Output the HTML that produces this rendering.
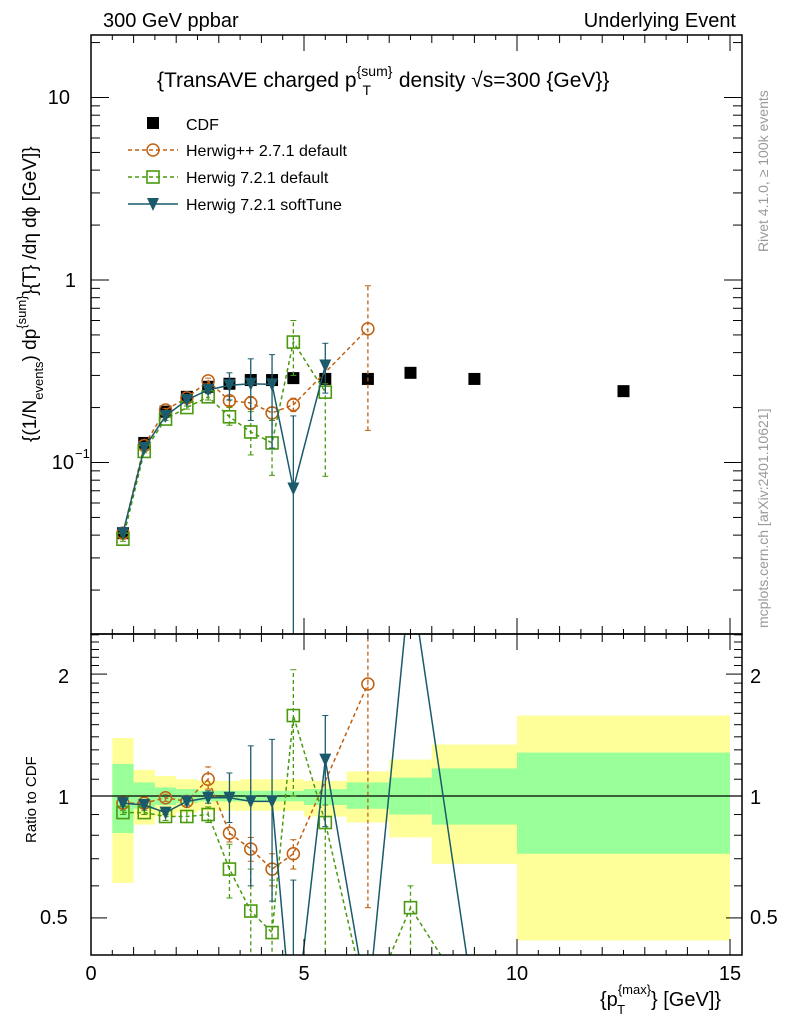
<!DOCTYPE html>
<html><head><meta charset="utf-8"><style>
body{margin:0;background:#fff;overflow:hidden;}
svg{font-family:"Liberation Sans",sans-serif;display:block;}
</style></head><body>
<svg id="c" width="786" height="1024" xmlns="http://www.w3.org/2000/svg"></svg>
<script>
const xs=[0.75,1.25,1.75,2.25,2.75,3.25,3.75,4.25,4.75,5.5,6.5,7.5,9,12.5];
const binLo=[0.5,1,1.5,2,2.5,3,3.5,4,4.5,5,6,7,8,10];
const binHi=[1,1.5,2,2.5,3,3.5,4,4.5,5,6,7,8,10,15];
const cdf=[0.041,0.128,0.19,0.229,0.26,0.27,0.283,0.283,0.29,0.287,0.287,0.31,0.287,0.246];
const hppX=[0.75,1.25,1.75,2.25,2.75,3.25,3.75,4.25,4.75,6.5];
const hpp=[0.041,0.124,0.194,0.226,0.28,0.218,0.212,0.187,0.207,0.54];
const hppLo=[0.04,0.122,0.19,0.222,0.27,0.205,0.195,0.17,0.19,0.15];
const hppHi=[0.042,0.126,0.198,0.23,0.29,0.23,0.23,0.2,0.225,0.93];
const h7X=[0.75,1.25,1.75,2.25,2.75,3.25,3.75,4.25,4.75,5.5];
const h7=[0.038,0.115,0.173,0.2,0.229,0.178,0.147,0.128,0.457,0.243];
const h7Lo=[0.037,0.113,0.17,0.196,0.22,0.16,0.11,0.085,0.3,0.084];
const h7Hi=[0.039,0.117,0.176,0.204,0.238,0.2,0.19,0.17,0.6,0.27];
const stX=[0.75,1.25,1.75,2.25,2.75,3.25,3.75,4.25,4.75,5.5];
const st=[0.041,0.12,0.18,0.22,0.25,0.265,0.27,0.268,0.072,0.34];
const stLo=[0.04,0.118,0.177,0.216,0.24,0.22,0.17,0.12,0.005,0.24];
const stHi=[0.042,0.122,0.183,0.224,0.26,0.31,0.37,0.39,0.18,0.45];
const rHppX=[0.75,1.25,1.75,2.25,2.75,3.25,3.75,4.25,4.75,6.5];
const rHpp=[0.96,0.96,0.99,0.97,1.1,0.81,0.74,0.66,0.72,1.89];
const rHppLo=[0.95,0.95,0.97,0.95,1.04,0.77,0.69,0.6,0.66,0.53];
const rHppHi=[0.97,0.97,1.01,0.99,1.18,0.86,0.79,0.72,0.78,3.5];
const rH7X=[0.75,1.25,1.75,2.25,2.75,3.25,3.75,4.25,4.75,5.5,6.5,7.5,9];
const rH7=[0.91,0.91,0.89,0.89,0.9,0.66,0.52,0.46,1.58,0.86,0.3,0.53,0.3];
const rH7Lo=[0.9,0.9,0.87,0.86,0.86,0.56,0.38,0.3,1.0,0.3,0.2,0.3,0.2];
const rH7Hi=[0.92,0.92,0.91,0.92,0.94,0.76,0.66,0.62,2.05,0.95,0.4,0.6,0.4];
const rStX=[0.75,1.25,1.75,2.25,2.75,3.25,3.75,4.25,4.75,5.5,6.5,7.5,9];
const rSt=[0.96,0.95,0.91,0.97,0.99,0.99,0.97,0.97,0.25,1.23,0.3,3.5,0.3];
const rStLo=[0.95,0.94,0.9,0.95,0.96,0.86,0.6,0.55,0.02,0.84,0.2,3,0.2];
const rStHi=[0.97,0.96,0.92,0.99,1.03,1.14,1.33,1.38,0.62,1.58,0.4,4,0.4];
const yelHi=[1.39,1.16,1.12,1.1,1.09,1.09,1.1,1.1,1.1,1.09,1.15,1.23,1.34,1.58];
const yelLo=[0.61,0.85,0.89,0.91,0.92,0.92,0.92,0.92,0.92,0.89,0.86,0.79,0.68,0.44];
const grnHi=[1.2,1.08,1.05,1.04,1.03,1.03,1.03,1.03,1.03,1.04,1.08,1.11,1.17,1.28];
const grnLo=[0.81,0.93,0.95,0.96,0.97,0.97,0.97,0.97,0.97,0.95,0.93,0.9,0.85,0.72];

const svg=document.getElementById('c');
const NS='http://www.w3.org/2000/svg';
function el(tag,attrs,parent){const e=document.createElementNS(NS,tag);for(const k in attrs)e.setAttribute(k,attrs[k]);(parent||svg).appendChild(e);return e;}
const X=v=>91+v*42.6;
const L=91,R=742,T=35,M=634,B=955;
const Yt=v=>280-182.5*Math.log10(v);
const Yr=v=>796-405*Math.log10(v);
const clipT=el('clipPath',{id:'ct'});el('rect',{x:L,y:T,width:R-L,height:M-T},clipT);
const clipB=el('clipPath',{id:'cb'});el('rect',{x:L,y:M,width:R-L,height:B-M},clipB);

const gBand=el('g',{'clip-path':'url(#cb)'});


for(let i=0;i<binLo.length;i++){
  const r1=el('rect',{x:X(binLo[i]),width:X(binHi[i])-X(binLo[i]),y:Yr(yelHi[i]),height:Yr(yelLo[i])-Yr(yelHi[i]),fill:'#ffff99'},gBand);
  
  
  const r2=el('rect',{x:X(binLo[i]),width:X(binHi[i])-X(binLo[i]),y:Yr(grnHi[i]),height:Yr(grnLo[i])-Yr(grnHi[i]),fill:'#99ff99'},gBand);
  
  
}
el('line',{x1:L,x2:R,y1:Yr(1),y2:Yr(1),stroke:'#000','stroke-width':1.2});

function series(g,xa,ya,lo,hi,Y,col,dash,marker,name){
  const grp=el('g',{},g);
  
  
  let d='';xa.forEach((x,i)=>{d+=(i?'L':'M')+X(x)+','+Y(ya[i]);});
  el('path',{d,fill:'none',stroke:col,'stroke-width':1.5,'stroke-dasharray':dash},grp);
  xa.forEach((x,i)=>{
    el('line',{x1:X(x),x2:X(x),y1:Y(lo[i]),y2:Y(hi[i]),stroke:col,'stroke-width':1.3,'stroke-dasharray':dash},grp);
    el('line',{x1:X(x)-3,x2:X(x)+3,y1:Y(lo[i]),y2:Y(lo[i]),stroke:col,'stroke-width':1},grp);
    el('line',{x1:X(x)-3,x2:X(x)+3,y1:Y(hi[i]),y2:Y(hi[i]),stroke:col,'stroke-width':1},grp);
    drawMarker(grp,X(x),Y(ya[i]),marker,col);
  });
}
function drawMarker(g,cx,cy,m,col){
  if(m==='circle')el('circle',{cx,cy,r:6,fill:'none',stroke:col,'stroke-width':1.5},g);
  else if(m==='square')el('rect',{x:cx-6,y:cy-6,width:12,height:12,fill:'none',stroke:col,'stroke-width':1.6},g);
  else if(m==='tri')el('path',{d:`M${cx-6},${cy-6}L${cx+6},${cy-6}L${cx},${cy+7}Z`,fill:col},g);
  else if(m==='fsq')el('rect',{x:cx-6,y:cy-6,width:12,height:12,fill:col},g);
}
const OR='#c06010',GR='#4a9a10',BL='#1a5a6a';
const gT=el('g',{'clip-path':'url(#ct)'});


const gc=el('g',{},gT);


xs.forEach((x,i)=>drawMarker(gc,X(x),Yt(cdf[i]),'fsq','#000'));
series(gT,hppX,hpp,hppLo,hppHi,Yt,OR,'4,3','circle','herwigpp-series');
series(gT,h7X,h7,h7Lo,h7Hi,Yt,GR,'4,3','square','herwig7-default-series');
series(gT,stX,st,stLo,stHi,Yt,BL,'none','tri','herwig7-softtune-series');
const gB=el('g',{'clip-path':'url(#cb)'});


series(gB,rHppX,rHpp,rHppLo,rHppHi,Yr,OR,'4,3','circle','herwigpp-ratio');
series(gB,rH7X,rH7,rH7Lo,rH7Hi,Yr,GR,'4,3','square','herwig7-default-ratio');
series(gB,rStX,rSt,rStLo,rStHi,Yr,BL,'none','tri','herwig7-softtune-ratio');

el('rect',{x:L,y:T,width:R-L,height:M-T,fill:'none',stroke:'#000','stroke-width':1.5});
el('rect',{x:L,y:M,width:R-L,height:B-M,fill:'none',stroke:'#000','stroke-width':1.5});
for(let v=0;v<=15.2;v+=0.5){
  const big=Math.abs(v%5)<1e-6, mid=Math.abs(v%1)<1e-6;
  const len=big?16:(mid?8:5);
  [T,M].forEach(y0=>{el('line',{x1:X(v),x2:X(v),y1:y0,y2:y0+len,stroke:'#000'});});
  [M,B].forEach(y0=>{el('line',{x1:X(v),x2:X(v),y1:y0,y2:y0-len,stroke:'#000'});});
}
function yt(y,len){el('line',{x1:L,x2:L+len,y1:y,y2:y,stroke:'#000'});el('line',{x1:R,x2:R-len,y1:y,y2:y,stroke:'#000'});}
for(let e=-2;e<=1;e++)for(let k=1;k<10;k++){const v=k*Math.pow(10,e);const y=Yt(v);if(y<T||y>M)continue;yt(y,k===1?18:9);}
for(let v=0.4;v<=2.55;v+=0.1){const y=Yr(v);if(y<M||y>B)continue;const maj=Math.abs(v-0.5)<1e-6||Math.abs(v-1)<1e-6||Math.abs(v-2)<1e-6;yt(y,maj?16:8);}
function txt(x,y,s,attrs,name){const t=el('text',Object.assign({x,y,'font-size':20},attrs||{}));t.textContent=s;return t;}
function tsp(parent,s,attrs){const t=el('tspan',attrs||{},parent);t.textContent=s;return t;}
const xl=[0,5,10,15];
xl.forEach(v=>txt(X(v),980,String(v),{'text-anchor':'middle'},'x-tick-label'));
txt(70,104,'10',{'text-anchor':'end'},'y-tick-label');
txt(76,287,'1',{'text-anchor':'end'},'y-tick-label');
txt(74,469,'10',{'text-anchor':'end'},'y-tick-label');
txt(75,458,'−1',{'font-size':13},'y-tick-exponent');
txt(58,683,'2',{},'ratio-tick-label');txt(58,804,'1',{},'ratio-tick-label');txt(40,924,'0.5',{},'ratio-tick-label');
txt(750,683,'2',{},'ratio-tick-label');txt(750,804,'1',{},'ratio-tick-label');txt(750,924,'0.5',{},'ratio-tick-label');
txt(103,27,'300 GeV ppbar',{},'plot-title-left');
txt(736,27,'Underlying Event',{'text-anchor':'end'},'plot-title-right');
// panel title
const pt=el('text',{x:157,y:87,'font-size':21});


tsp(pt,'{TransAVE charged p');
tsp(pt,'{sum}',{'font-size':14,dy:-11});
tsp(pt,'T',{'font-size':14,dx:-30,dy:19});
tsp(pt,' density √s=300 {GeV}}',{dx:22,dy:-8});
// y axis title
const yat=el('text',{transform:'translate(36,442) rotate(-90)','font-size':19});


tsp(yat,'{(1/N');
tsp(yat,'events',{'font-size':13,dy:7});
tsp(yat,') dp',{dy:-7});
tsp(yat,'{sum}',{'font-size':13,dy:-10});
tsp(yat,'}{T} /dη  dϕ [GeV]}',{dy:10});
txt(0,0,'Ratio to CDF',{'font-size':15,transform:'translate(36,843) rotate(-90)'},'ratio-axis-title');
const xat=el('text',{x:600,y:1006,'font-size':20});


tsp(xat,'{p');
tsp(xat,'{max}',{'font-size':13,dy:-12});
tsp(xat,'T',{'font-size':13,dx:-34,dy:20});
tsp(xat,'} [GeV]}',{dx:26,dy:-8});
txt(0,0,'Rivet 4.1.0, ≥ 100k events',{'font-size':14,fill:'#999',transform:'translate(768,252) rotate(-90)'},'rivet-label');
txt(0,0,'mcplots.cern.ch [arXiv:2401.10621]',{'font-size':14,fill:'#999',transform:'translate(768,628) rotate(-90)'},'mcplots-label');
const lg=el('g',{});
drawMarker(lg,153,123,'fsq','#000');
txt(186,130,'CDF',{'font-size':16},'legend-cdf');
const leg=[[150,OR,'4,3','circle','Herwig++ 2.7.1 default'],[177,GR,'4,3','square','Herwig 7.2.1 default'],[204,BL,'none','tri','Herwig 7.2.1 softTune']];
leg.forEach(l=>{el('line',{x1:128,x2:178,y1:l[0],y2:l[0],stroke:l[1],'stroke-width':1.5,'stroke-dasharray':l[2]},lg);drawMarker(lg,153,l[0],l[3],l[1]);txt(186,l[0]+6,l[4],{'font-size':16},'legend-entry');});
</script>
</body></html>
